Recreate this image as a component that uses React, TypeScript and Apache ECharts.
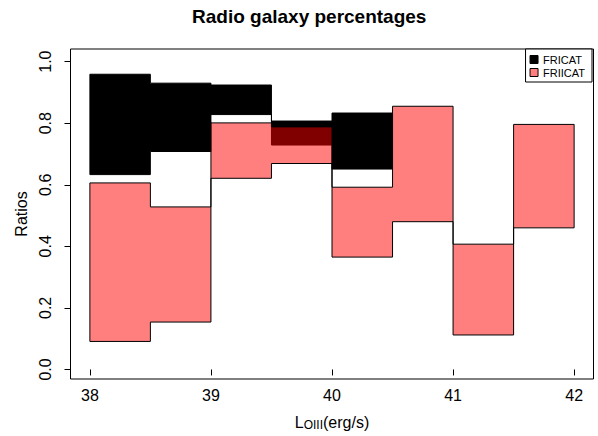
import React, { useEffect, useRef } from "react";
import * as echarts from "echarts";

// Bin edges in log L_OIII (erg/s)
const binEdges = [38, 38.5, 39, 39.5, 40, 40.5, 41, 41.5, 42];

// FRICAT ratio band (first five bins)
const fricatLower = [0.633, 0.708, 0.828, 0.729, 0.651];
const fricatUpper = [0.959, 0.930, 0.924, 0.807, 0.833];

// FRIICAT ratio band (all bins)
const friicatLower = [0.091, 0.154, 0.621, 0.669, 0.365, 0.480, 0.112, 0.460];
const friicatUpper = [0.606, 0.528, 0.801, 0.788, 0.592, 0.855, 0.407, 0.796];

const xTicks = [38, 39, 40, 41, 42];
const yTicks = [0, 0.2, 0.4, 0.6, 0.8, 1.0];

const FONT = "'Liberation Sans', Arial, sans-serif";

const buildBand = (lower: number[], upper: number[]) =>
  lower.map((lo, i) => [binEdges[i], binEdges[i + 1], lo, upper[i]]);

// Draws a step band as one outlined polygon: a filled rect per bin, plus
// horizontal edges and the vertical joins between neighbouring bins.
const makeRenderItem = (fill: string) => (params: any, api: any) => {
  const i = params.dataIndexInside;
  const n = params.dataInsideLength;
  const x0 = api.value(0);
  const x1 = api.value(1);
  const lo = api.value(2);
  const hi = api.value(3);
  const tl = api.coord([x0, hi]);
  const br = api.coord([x1, lo]);
  // whole-pixel rect edges so neighbouring bins meet without a seam
  const rx0 = Math.round(tl[0]);
  const rx1 = Math.round(br[0]);
  const seg = (a: number[], b: number[]) => ({
    type: "line",
    shape: { x1: a[0], y1: a[1], x2: b[0], y2: b[1] },
    style: { stroke: "#000", lineWidth: 1 },
  });
  const children: any[] = [
    {
      type: "rect",
      shape: { x: rx0, y: tl[1], width: rx1 - rx0, height: br[1] - tl[1] },
      style: { fill },
    },
    seg(api.coord([x0, hi]), api.coord([x1, hi])),
    seg(api.coord([x0, lo]), api.coord([x1, lo])),
  ];
  if (i === 0) {
    children.push(seg(api.coord([x0, lo]), api.coord([x0, hi])));
  } else {
    const pLo = api.value(2, i - 1);
    const pHi = api.value(3, i - 1);
    children.push(seg(api.coord([x0, pHi]), api.coord([x0, hi])));
    children.push(seg(api.coord([x0, pLo]), api.coord([x0, lo])));
  }
  if (i === n - 1) {
    children.push(seg(api.coord([x1, lo]), api.coord([x1, hi])));
  }
  return { type: "group", children };
};

export default function App() {
  const ref = useRef<HTMLDivElement>(null);

  useEffect(() => {
    if (!ref.current) return;
    const chart = echarts.init(ref.current, undefined, { renderer: "svg" });
    const red = "rgba(255,0,0,0.5)";
    chart.setOption({
      animation: false,
      backgroundColor: "#fff",
      textStyle: { fontFamily: FONT, color: "#000" },
      title: {
        text: "Radio galaxy percentages",
        left: 192,
        top: 7,
        padding: 0,
        textStyle: { fontFamily: FONT, fontSize: 19, fontWeight: "bold", color: "#000" },
      },
      legend: {
        orient: "vertical",
        right: 6,
        top: 49,
        padding: [5, 7, 4, 4],
        itemGap: 2,
        itemWidth: 8,
        itemHeight: 8,
        borderColor: "#000",
        borderWidth: 1,
        backgroundColor: "#fff",
        textStyle: { fontFamily: FONT, fontSize: 11, color: "#000" },
        itemStyle: { borderColor: "#000", borderWidth: 1 },
        data: [
          { name: "FRICAT", icon: "rect" },
          { name: "FRIICAT", icon: "rect" },
        ],
      },
      grid: {
        left: 70.5,
        right: 4.5,
        top: 49,
        bottom: 52,
        show: true,
        borderColor: "#000",
        borderWidth: 1,
        backgroundColor: "transparent",
      },
      xAxis: {
        type: "value",
        min: 37.84,
        max: 42.16,
        axisLine: { show: false },
        splitLine: { show: false },
        axisTick: {
          show: true,
          customValues: xTicks,
          length: 6,
          lineStyle: { color: "#000", width: 1 },
        },
        axisLabel: {
          customValues: xTicks,
          fontSize: 16,
          color: "#000",
          margin: 8,
          fontFamily: FONT,
        },
        name: "L{sub|OIII}(erg/s)",
        nameLocation: "middle",
        nameGap: 34,
        nameTextStyle: {
          fontFamily: FONT,
          fontSize: 16,
          color: "#000",
          rich: {
            sub: { fontFamily: FONT, fontSize: 12, color: "#000", verticalAlign: "bottom", padding: [6, 0, 0, 0] },
          },
        },
      },
      yAxis: {
        type: "value",
        min: -0.031,
        max: 1.041,
        axisLine: { show: false },
        splitLine: { show: false },
        axisTick: {
          show: true,
          customValues: yTicks,
          length: 6,
          lineStyle: { color: "#000", width: 1 },
        },
        axisLabel: {
          customValues: yTicks,
          rotate: 90,
          fontSize: 16,
          color: "#000",
          margin: 17,
          fontFamily: FONT,
          formatter: (v: number) => v.toFixed(1),
        },
        name: "Ratios",
        nameLocation: "middle",
        nameRotate: 90,
        nameGap: 41,
        nameTextStyle: { fontFamily: FONT, fontSize: 16, color: "#000" },
      },
      series: [
        {
          name: "FRICAT",
          type: "custom",
          renderItem: makeRenderItem("#000"),
          itemStyle: { color: "#000" },
          encode: { x: [0, 1], y: [2, 3] },
          data: buildBand(fricatLower, fricatUpper),
          z: 2,
        },
        {
          name: "FRIICAT",
          type: "custom",
          renderItem: makeRenderItem(red),
          itemStyle: { color: red },
          encode: { x: [0, 1], y: [2, 3] },
          data: buildBand(friicatLower, friicatUpper),
          z: 3,
        },
      ],
    });
    return () => chart.dispose();
  }, []);

  return <div ref={ref} style={{ width: 598, height: 436, position: "absolute", left: 0, top: 0 }} />;
}
